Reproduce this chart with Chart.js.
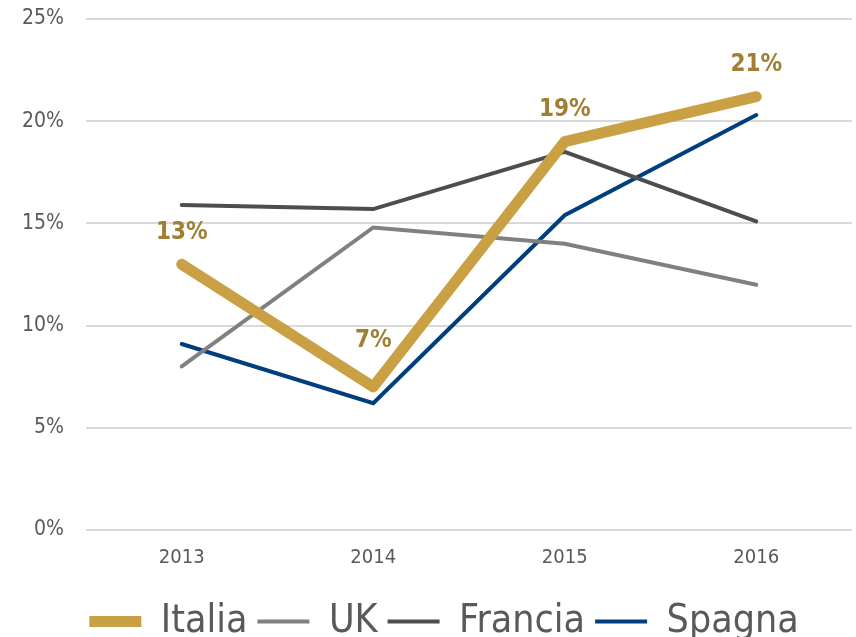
<!DOCTYPE html>
<html>
<head>
<meta charset="utf-8">
<script src="https://cdn.jsdelivr.net/npm/chart.js@4/dist/chart.umd.min.js"></script>
<style>
  html, body { margin: 0; padding: 0; background: #fff; }
  #wrap { width: 856px; height: 637px; }
</style>
</head>
<body>
<div id="wrap"><canvas id="myChart"></canvas></div>
<script>
var anni = ["2013", "2014", "2015", "2016"];
var italia = [13.0, 7.0, 19.0, 21.2];
var uk = [8.0, 14.8, 14.0, 12.0];
var francia = [15.9, 15.7, 18.5, 15.1];
var spagna = [9.1, 6.2, 15.4, 20.3];
var italiaLabels = ["13%", "7%", "19%", "21%"];

var fontFam = "'DejaVu Sans Condensed', 'DejaVu Sans', sans-serif";

// etichette sopra la linea Italia
var etichettePlugin = {
  id: 'etichette',
  afterLayout: function (chart) {
    // sposta un po' la legenda verso destra
    if (chart.legend) {
      chart.legend.left += 18;
      chart.legend.right += 18;
    }
  },
  afterDatasetsDraw: function (chart) {
    var ctx = chart.ctx;
    var meta = chart.getDatasetMeta(0);
    ctx.save();
    ctx.fillStyle = '#A07E33';
    ctx.font = "bold 24px 'DejaVu Sans Condensed', 'DejaVu Sans', sans-serif";
    ctx.textAlign = 'center';
    ctx.textBaseline = 'middle';
    meta.data.forEach(function (pt, i) {
      var off = (i === 1) ? 46 : 32;
      ctx.fillText(italiaLabels[i], pt.x, pt.y - off);
    });
    ctx.restore();
  }
};

var ctx = document.getElementById('myChart').getContext('2d');
var myChart = new Chart(ctx, {
  type: 'line',
  data: {
    labels: anni,
    datasets: [
      { label: 'Italia', data: italia, borderColor: '#C9A043', backgroundColor: '#C9A043', borderWidth: 11, borderCapStyle: 'round', borderJoinStyle: 'round' },
      { label: 'UK', data: uk, borderColor: '#808080', backgroundColor: '#808080', borderWidth: 4, borderCapStyle: 'round' },
      { label: 'Francia', data: francia, borderColor: '#4D4D4D', backgroundColor: '#4D4D4D', borderWidth: 4, borderCapStyle: 'round' },
      { label: 'Spagna', data: spagna, borderColor: '#003F7D', backgroundColor: '#003F7D', borderWidth: 4, borderCapStyle: 'round' }
    ]
  },
  options: {
    responsive: true,
    maintainAspectRatio: false,
    animation: false,
    elements: { point: { radius: 0 }, line: { tension: 0 } },
    layout: { padding: { top: 19, right: 4, left: 0, bottom: -14 } },
    plugins: {
      tooltip: { enabled: false },
      legend: {
        position: 'bottom',
        labels: {
          usePointStyle: true,
          pointStyle: 'line',
          pointStyleWidth: 52,
          color: '#595959',
          font: { size: 39, family: fontFam },
          padding: 10
        }
      }
    },
    scales: {
      x: {
        offset: true,
        grid: { display: false },
        border: { display: false },
        ticks: { color: '#595959', font: { size: 20, family: fontFam }, padding: 8 },
        afterFit: function (scale) { scale.height += 14; }
      },
      y: {
        min: 0,
        max: 25,
        ticks: {
          stepSize: 5,
          color: '#595959',
          font: { size: 21, family: fontFam },
          padding: 22,
          callback: function (v) { return v + '%'; }
        },
        grid: { color: '#D9D9D9', lineWidth: 2, drawTicks: false },
        border: { display: false },
        afterFit: function (scale) { scale.paddingTop = 0; scale.paddingBottom = 0; }
      }
    }
  },
  plugins: [etichettePlugin]
});
</script>
</body>
</html>
